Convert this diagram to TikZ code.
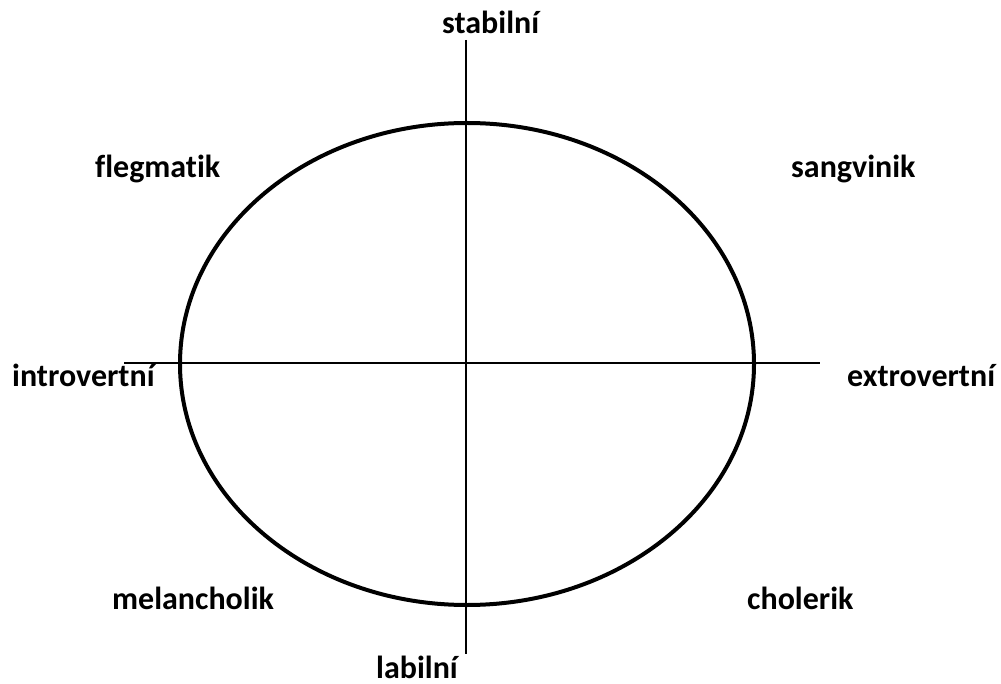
\documentclass[tikz,border=0pt]{standalone}
\usepackage{fontspec}
\setmainfont[Ligatures=NoCommon]{Carlito}
\usetikzlibrary{shapes.geometric}
\begin{document}
\begin{tikzpicture}[x=1pt,y=-1pt,
  lbl/.style={anchor=base west,inner sep=0pt,font=\fontsize{32}{36}\selectfont\bfseries},
  axis/.style={line width=1.6pt,black},
  circ/.style={line width=4pt,black}]
\useasboundingbox[fill=white] (0,0) rectangle (1001,684);
\coordinate (top) at (466,40);
\coordinate (bot) at (466,654);
\coordinate (lft) at (124,363);
\coordinate (rgt) at (820,363);
\draw[axis] (top) -- (bot);
\draw[axis] (lft) -- (rgt);
\node[draw,circ,ellipse,inner sep=0pt,minimum width=574pt,minimum height=482pt] (ell) at (467,364) {};
\node[lbl] (stab) at (442,34) {stabilní};
\node[lbl] (lab) at (376,678) {labilní};
\node[lbl] (intro) at (12,387) {introvertní};
\node[lbl] (extro) at (847,386) {extrovertní};
\node[lbl] (fleg) at (95,178) {flegmatik};
\node[lbl] (sang) at (791,178) {sangvinik};
\node[lbl] (mel) at (112,609) {melancholik};
\node[lbl] (chol) at (747,609) {cholerik};
\end{tikzpicture}
\end{document}
